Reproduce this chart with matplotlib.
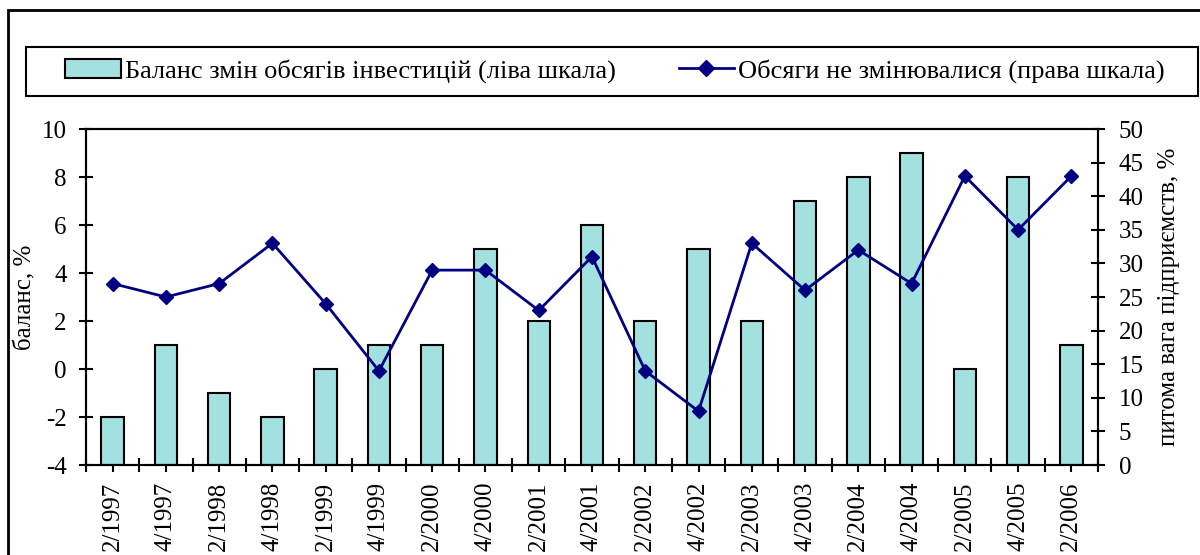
import matplotlib
matplotlib.use("Agg")
import matplotlib.pyplot as plt
from matplotlib.patches import Rectangle, Patch
from matplotlib.lines import Line2D
import numpy as np

plt.rcParams["font.family"] = ["Liberation Serif", "DejaVu Serif"]
plt.rcParams["font.size"] = 18
plt.rcParams["axes.unicode_minus"] = False

# ── data ─────────────────────────────────────────────────────────────────────
periods = ["2/1997", "4/1997", "2/1998", "4/1998", "2/1999", "4/1999",
           "2/2000", "4/2000", "2/2001", "4/2001", "2/2002", "4/2002",
           "2/2003", "4/2003", "2/2004", "4/2004", "2/2005", "4/2005", "2/2006"]
balance = [-2, 1, -1, -2, 0, 1, 1, 5, 2, 6, 2, 5, 2, 7, 8, 9, 0, 8, 1]
unchanged = [27, 25, 27, 33, 24, 14, 29, 29, 23, 31, 14, 8, 33, 26, 32, 27, 43, 35, 43]

BAR_COLOR = "#a3e0e0"
LINE_COLOR = "#000080"
LEFT_MIN = -4

fig = plt.figure(figsize=(12, 5.55), dpi=100)
ax = fig.add_axes([86/1200, 1 - 465/555, (1098 - 86)/1200, (465 - 129)/555])
ax2 = ax.twinx()

x = np.arange(len(periods))
# bars in Excel start from the axis crossing (-4)
ax.bar(x, np.array(balance) - LEFT_MIN, bottom=LEFT_MIN, width=0.42,
       color=BAR_COLOR, edgecolor="black", linewidth=1.5, zorder=2)
ax2.plot(x, unchanged, color=LINE_COLOR, lw=2, marker="D", ms=7, zorder=3)

ax.set_xlim(-0.5, len(periods) - 0.5)
ax.set_ylim(-4, 10)
ax.set_yticks(np.arange(-4, 11, 2))
ax2.set_ylim(0, 50)
ax2.set_yticks(np.arange(0, 51, 5))

ax.set_xticks(x)
ax.set_xticklabels(periods, rotation=90)
ax.set_xticks(np.arange(-0.5, len(periods)), minor=True)
for a in (ax, ax2):
    a.tick_params(direction="inout", length=10, width=1.5)
    a.tick_params(which="minor", direction="inout", length=10, width=1.5)
    for s in a.spines.values():
        s.set_linewidth(1.5)
ax.tick_params(axis="y", pad=9)
ax.tick_params(axis="x", pad=7)
ax2.tick_params(axis="y", pad=10)

ax.set_ylabel("баланс, %", labelpad=4)
ax2.set_ylabel("питома вага підприємств, %", labelpad=10)

# outer chart border (cropped on right/bottom in the reference)
fig.patches.append(Rectangle((8/1200, -0.05), 1.2, 1 - 10/555 + 0.05,
                             transform=fig.transFigure, fill=False,
                             edgecolor="black", linewidth=2))
# legend frame
fig.patches.append(Rectangle((26/1200, 1 - 96/555), (1198 - 26)/1200, 49/555,
                             transform=fig.transFigure, fill=False,
                             edgecolor="black", linewidth=1.5))

handles = [Patch(facecolor=BAR_COLOR, edgecolor="black", linewidth=1.5),
           Line2D([], [], color=LINE_COLOR, lw=2, marker="D", ms=8)]
labels = ["Баланс змін обсягів інвестицій (ліва шкала)",
          "Обсяги не змінювалися (права шкала)"]
fig.legend(handles, labels, ncol=2, frameon=False, loc="center",
           bbox_to_anchor=(615/1200, 1 - 71/555), handlelength=2.1,
           handletextpad=0.15, columnspacing=2.4, fontsize=19)

fig.savefig("out.png", dpi=100)
